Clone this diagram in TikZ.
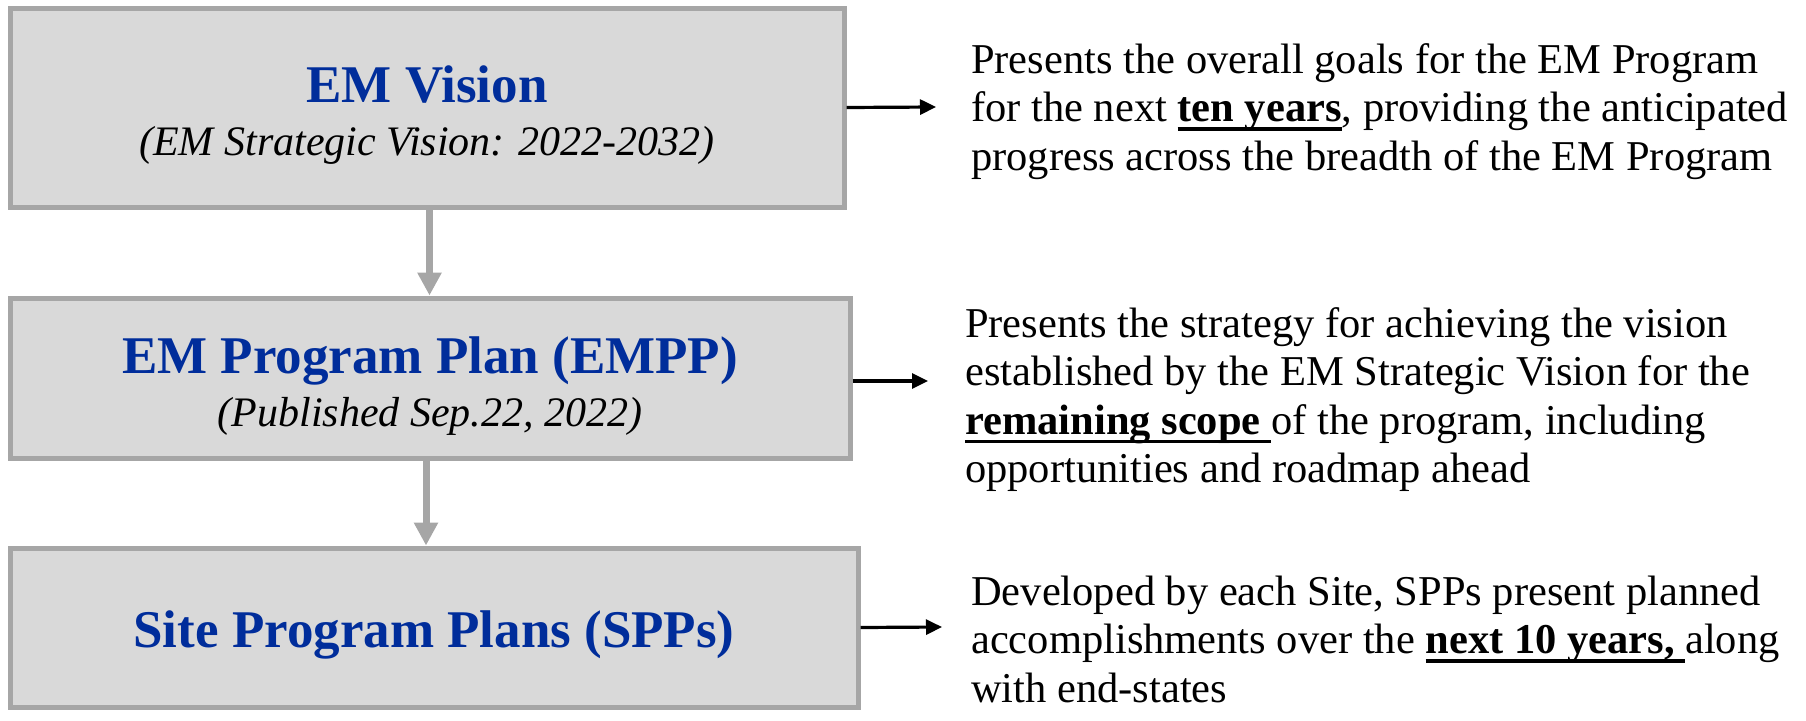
\documentclass[tikz,border=0pt]{standalone}
\usepackage{fontspec}
\setmainfont{Liberation Serif}
\usetikzlibrary{arrows.meta}
\definecolor{boxfill}{HTML}{D9D9D9}
\definecolor{boxline}{HTML}{A6A6A6}
\definecolor{titleblue}{RGB}{0,45,155}
\newcommand\myul[1]{\setbox0\hbox{#1}\rlap{\rule[-0.22em]{\wd0}{0.09em}}\box0}
\begin{document}
\begin{tikzpicture}[x=1pt,y=-1pt,
  box/.style={draw=boxline, fill=boxfill, line width=5pt, inner sep=0pt},
  title/.style={anchor=base, inner sep=0pt, text=titleblue, font=\fontsize{53}{60}\selectfont\bfseries},
  sub/.style={anchor=base, inner sep=0pt, font=\fontsize{42}{48}\selectfont\itshape},
  desc/.style={anchor=base west, inner sep=0pt, font=\fontsize{42.5}{48.5}\selectfont},
  grayarrow/.style={draw=boxline, line width=7pt, -{Triangle[width=23pt,length=23pt]}},
  blackarrow/.style={draw=black, line width=3.2pt, -{Triangle[width=15pt,length=16pt]}}]
\path[use as bounding box] (0,0) rectangle (1806,720);

% boxes
\node[box, minimum width=834pt, minimum height=199pt] (b1) at (427,107.5) {};
\node[box, minimum width=840pt, minimum height=160pt] (b2) at (430,378) {};
\node[box, minimum width=848pt, minimum height=159pt] (b3) at (434,627.5) {};

% box texts
\node[title] (t1) at (427,102) {EM Vision};
\node[sub] (s1) at (427,155) {(EM Strategic Vision: 2022-2032)};
\node[title] (t2) at (430,373) {EM Program Plan (EMPP)};
\node[sub] (s2) at (430,426) {(Published Sep.22, 2022)};
\node[title] (t3) at (434,647) {Site Program Plans (SPPs)};

% vertical connectors
\draw[grayarrow] ([xshift=2.5pt]b1.south) -- ([xshift=2.5pt]b1.south |- b2.north);
\draw[grayarrow] ([xshift=-4pt]b2.south) -- ([xshift=-4pt]b2.south |- b3.north);

% side arrows
\coordinate (e1) at (936,107);
\coordinate (e2) at (928,381);
\coordinate (e3) at (942,627);
\draw[blackarrow] (b1.east) -- (e1);
\draw[blackarrow] (b2.east |- e2) -- (e2);
\draw[blackarrow] (b3.east) -- (e3);

% descriptions
\node[desc] (d1) at (971,73) {\parbox[t]{900pt}{Presents the overall goals for the EM Program\\
for the next \myul{\textbf{ten years}}, providing the anticipated\\
progress across the breadth of the EM Program}};
\node[desc] (d2) at (965,337) {\parbox[t]{900pt}{Presents the strategy for achieving the vision\\
established by the EM Strategic Vision for the\\
\myul{\textbf{remaining scope}\ }of the program, including\\
opportunities and roadmap ahead}};
\node[desc] (d3) at (971,605) {\parbox[t]{900pt}{Developed by each Site, SPPs present planned\\
accomplishments over the \myul{\textbf{next 10 years,}\ }along\\
with end-states}};
\end{tikzpicture}
\end{document}
